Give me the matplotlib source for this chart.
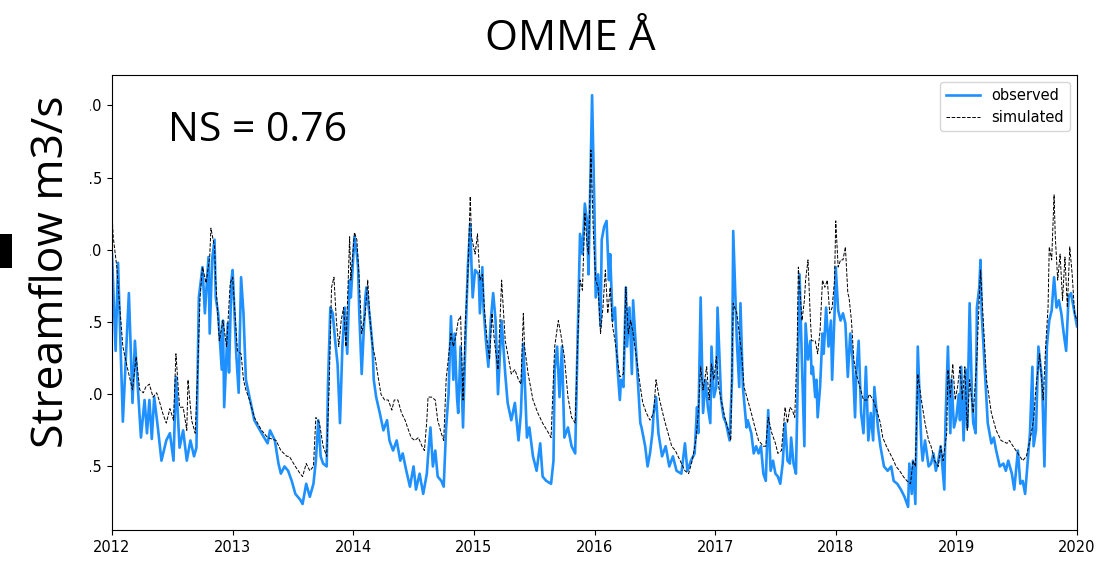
import matplotlib
matplotlib.use("Agg")
import matplotlib.pyplot as plt
from matplotlib.patches import Rectangle

# observed streamflow (log scale units as plotted), (decimal year, value)
observed = [
    (2012.00, 0.97), (2012.03, 0.30), (2012.05, 0.91), (2012.09, -0.19), (2012.14, 0.70),
    (2012.17, -0.06), (2012.19, 0.37), (2012.24, -0.30), (2012.27, -0.04), (2012.29, -0.27),
    (2012.31, -0.04), (2012.33, -0.31), (2012.35, -0.02), (2012.38, -0.23), (2012.41, -0.46),
    (2012.45, -0.32), (2012.48, -0.27), (2012.51, -0.46), (2012.53, 0.12), (2012.56, -0.37),
    (2012.59, -0.25), (2012.62, -0.46), (2012.65, -0.32), (2012.68, -0.43), (2012.70, -0.37),
    (2012.72, 0.67), (2012.75, 0.88), (2012.77, 0.56), (2012.80, 0.95), (2012.81, 0.42),
    (2012.83, 0.93), (2012.85, 1.07), (2012.86, 0.67), (2012.88, 0.56), (2012.91, 0.17),
    (2012.92, 0.51), (2012.93, -0.09), (2012.96, 0.49), (2012.97, 0.15), (2012.99, 0.79),
    (2013.00, 0.86), (2013.03, 0.28), (2013.05, 0.01), (2013.07, 0.81), (2013.09, 0.56),
    (2013.11, 0.10), (2013.14, -0.02), (2013.18, -0.18), (2013.24, -0.27), (2013.29, -0.34),
    (2013.31, -0.25), (2013.35, -0.32), (2013.38, -0.48), (2013.40, -0.55), (2013.43, -0.50),
    (2013.46, -0.53), (2013.49, -0.60), (2013.52, -0.69), (2013.56, -0.73), (2013.58, -0.76),
    (2013.61, -0.62), (2013.64, -0.71), (2013.67, -0.62), (2013.69, -0.46), (2013.71, -0.18),
    (2013.73, -0.43), (2013.75, -0.48), (2013.78, -0.50), (2013.79, 0.05), (2013.81, 0.60),
    (2013.83, 0.56), (2013.85, 0.37), (2013.87, 0.21), (2013.89, -0.20), (2013.91, 0.33),
    (2013.93, 0.60), (2013.95, 0.28), (2013.97, 0.79), (2013.98, 0.67), (2014.01, 1.09),
    (2014.03, 0.97), (2014.04, 0.88), (2014.05, 0.56), (2014.07, 0.14), (2014.10, 0.67),
    (2014.11, 0.74), (2014.14, 0.51), (2014.16, 0.33), (2014.17, 0.10), (2014.19, -0.02),
    (2014.22, -0.13), (2014.25, -0.25), (2014.28, -0.18), (2014.30, -0.32), (2014.33, -0.39),
    (2014.36, -0.32), (2014.39, -0.46), (2014.41, -0.41), (2014.44, -0.53), (2014.47, -0.64),
    (2014.50, -0.50), (2014.52, -0.66), (2014.55, -0.55), (2014.58, -0.69), (2014.61, -0.55),
    (2014.62, -0.43), (2014.64, -0.23), (2014.66, -0.50), (2014.68, -0.39), (2014.70, -0.57),
    (2014.73, -0.60), (2014.75, -0.64), (2014.77, -0.23), (2014.79, 0.00), (2014.81, 0.54),
    (2014.83, 0.10), (2014.84, 0.42), (2014.86, -0.02), (2014.87, -0.13), (2014.89, 0.33),
    (2014.91, -0.23), (2014.93, 0.37), (2014.95, 0.88), (2014.97, 1.18), (2014.98, 0.90),
    (2014.99, 0.67), (2015.01, 0.86), (2015.04, 0.83), (2015.05, 0.56), (2015.07, 0.88),
    (2015.08, 0.60), (2015.10, 0.37), (2015.12, 0.19), (2015.14, 0.51), (2015.16, 0.70),
    (2015.18, 0.51), (2015.20, 0.00), (2015.23, 0.51), (2015.26, 0.14), (2015.28, -0.06),
    (2015.31, -0.18), (2015.34, -0.06), (2015.37, -0.32), (2015.39, -0.13), (2015.41, 0.35),
    (2015.44, -0.30), (2015.46, -0.23), (2015.49, -0.43), (2015.52, -0.53), (2015.55, -0.34),
    (2015.57, -0.57), (2015.60, -0.60), (2015.64, -0.62), (2015.66, -0.46), (2015.67, 0.17),
    (2015.69, 0.33), (2015.71, -0.02), (2015.73, 0.33), (2015.75, -0.30), (2015.78, -0.23),
    (2015.81, -0.36), (2015.84, -0.41), (2015.86, 0.37), (2015.88, 1.11), (2015.90, 0.97),
    (2015.92, 1.32), (2015.94, 1.18), (2015.95, 0.83), (2015.96, 1.25), (2015.98, 2.07),
    (2016.00, 1.25), (2016.01, 0.67), (2016.03, 0.83), (2016.05, 0.47), (2016.06, 1.07),
    (2016.08, 1.16), (2016.10, 1.20), (2016.12, 0.79), (2016.13, 0.97), (2016.15, 0.51),
    (2016.17, 0.60), (2016.19, 0.19), (2016.21, -0.04), (2016.22, 0.10), (2016.24, 0.05),
    (2016.26, 0.74), (2016.27, 0.33), (2016.29, 0.60), (2016.31, 0.14), (2016.32, 0.65),
    (2016.34, 0.37), (2016.36, 0.10), (2016.38, -0.20), (2016.39, -0.23), (2016.42, -0.36),
    (2016.44, -0.50), (2016.46, -0.41), (2016.48, -0.27), (2016.49, -0.13), (2016.51, -0.02),
    (2016.53, -0.27), (2016.56, -0.43), (2016.59, -0.36), (2016.62, -0.50), (2016.65, -0.43),
    (2016.68, -0.53), (2016.72, -0.55), (2016.75, -0.34), (2016.77, -0.53), (2016.80, -0.46),
    (2016.83, -0.41), (2016.85, -0.09), (2016.86, -0.27), (2016.88, 0.67), (2016.90, -0.13),
    (2016.92, 0.10), (2016.94, -0.09), (2016.96, -0.20), (2016.97, 0.33), (2016.99, -0.02),
    (2017.01, 0.05), (2017.02, 0.60), (2017.05, -0.04), (2017.07, -0.16), (2017.09, -0.20),
    (2017.12, -0.32), (2017.14, 0.10), (2017.15, 1.13), (2017.18, 0.37), (2017.20, 0.05),
    (2017.21, 0.63), (2017.23, 0.05), (2017.26, -0.23), (2017.27, -0.18), (2017.30, -0.27),
    (2017.32, -0.41), (2017.34, -0.36), (2017.36, -0.41), (2017.38, -0.36), (2017.40, -0.55),
    (2017.42, -0.60), (2017.44, -0.11), (2017.46, -0.53), (2017.48, -0.46), (2017.50, -0.55),
    (2017.52, -0.57), (2017.54, -0.62), (2017.56, -0.48), (2017.58, -0.20), (2017.60, -0.46),
    (2017.62, -0.48), (2017.63, -0.30), (2017.65, -0.48), (2017.67, -0.55), (2017.68, -0.13),
    (2017.70, 0.83), (2017.72, 0.21), (2017.74, -0.36), (2017.75, 0.49), (2017.77, 0.24),
    (2017.79, 0.37), (2017.80, 0.14), (2017.81, 0.19), (2017.83, -0.02), (2017.84, 0.10),
    (2017.85, -0.16), (2017.87, 0.05), (2017.89, 0.42), (2017.90, 0.28), (2017.92, 0.60),
    (2017.94, 0.33), (2017.96, 0.51), (2017.97, 0.10), (2017.99, 0.56), (2018.00, 0.88),
    (2018.02, 0.58), (2018.04, 0.51), (2018.06, 0.56), (2018.08, 0.49), (2018.10, 0.12),
    (2018.12, 0.42), (2018.14, 0.24), (2018.16, -0.16), (2018.17, 0.14), (2018.19, 0.37),
    (2018.21, -0.13), (2018.23, -0.27), (2018.25, 0.19), (2018.27, -0.32), (2018.29, -0.13),
    (2018.31, -0.32), (2018.32, 0.05), (2018.35, -0.23), (2018.37, -0.36), (2018.40, -0.50),
    (2018.43, -0.53), (2018.46, -0.50), (2018.48, -0.60), (2018.51, -0.62), (2018.54, -0.66),
    (2018.57, -0.71), (2018.60, -0.78), (2018.61, -0.48), (2018.63, -0.69), (2018.64, -0.46),
    (2018.66, -0.76), (2018.68, 0.33), (2018.71, -0.36), (2018.72, -0.46), (2018.74, -0.32),
    (2018.77, -0.50), (2018.79, -0.48), (2018.81, -0.41), (2018.83, -0.53), (2018.85, -0.46),
    (2018.87, -0.36), (2018.90, -0.66), (2018.91, -0.18), (2018.93, 0.33), (2018.95, -0.27),
    (2018.96, 0.10), (2018.98, -0.23), (2019.00, -0.16), (2019.02, 0.00), (2019.03, -0.18),
    (2019.04, 0.19), (2019.06, -0.32), (2019.08, 0.17), (2019.09, -0.23), (2019.11, 0.63),
    (2019.13, -0.04), (2019.14, -0.20), (2019.16, -0.27), (2019.17, 0.60), (2019.19, 0.74),
    (2019.20, 0.93), (2019.21, 0.56), (2019.24, 0.10), (2019.26, -0.20), (2019.29, -0.34),
    (2019.31, -0.30), (2019.33, -0.39), (2019.36, -0.50), (2019.39, -0.48), (2019.41, -0.53),
    (2019.43, -0.46), (2019.46, -0.55), (2019.48, -0.66), (2019.51, -0.39), (2019.53, -0.62),
    (2019.55, -0.60), (2019.57, -0.69), (2019.59, -0.48), (2019.61, -0.27), (2019.63, 0.19),
    (2019.64, -0.36), (2019.66, -0.25), (2019.68, 0.33), (2019.71, 0.10), (2019.73, -0.50),
    (2019.75, 0.33), (2019.77, 0.51), (2019.79, 0.58), (2019.81, 0.81), (2019.83, 0.60),
    (2019.85, 0.65), (2019.87, 0.56), (2019.89, 0.42), (2019.91, 0.30), (2019.93, 0.67),
    (2019.95, 0.70), (2019.98, 0.56), (2020.00, 0.47),
]

# simulated streamflow, (decimal year, value)
simulated = [
    (2012.00, 1.25), (2012.01, 1.09), (2012.04, 0.88), (2012.06, 0.65), (2012.09, 0.33),
    (2012.12, 0.21), (2012.15, 0.10), (2012.17, 0.03), (2012.20, 0.26), (2012.23, 0.03),
    (2012.26, 0.01), (2012.28, 0.05), (2012.31, 0.07), (2012.34, -0.02), (2012.37, 0.01),
    (2012.39, -0.04), (2012.42, -0.13), (2012.45, -0.20), (2012.48, -0.10), (2012.51, -0.18),
    (2012.53, 0.28), (2012.56, -0.09), (2012.59, -0.09), (2012.62, -0.25), (2012.63, 0.10),
    (2012.66, -0.18), (2012.69, -0.27), (2012.71, 0.15), (2012.73, 0.67), (2012.75, 0.88),
    (2012.78, 0.77), (2012.81, 0.95), (2012.82, 1.15), (2012.85, 1.02), (2012.86, 0.79),
    (2012.89, 0.37), (2012.92, 0.51), (2012.95, 0.33), (2012.98, 0.77), (2013.00, 0.81),
    (2013.02, 0.56), (2013.04, 0.30), (2013.07, 0.28), (2013.09, 0.10), (2013.11, 0.03),
    (2013.14, -0.04), (2013.18, -0.16), (2013.24, -0.25), (2013.29, -0.30), (2013.36, -0.32),
    (2013.40, -0.39), (2013.45, -0.43), (2013.47, -0.43), (2013.52, -0.50), (2013.56, -0.55),
    (2013.58, -0.57), (2013.61, -0.48), (2013.64, -0.53), (2013.67, -0.50), (2013.69, -0.16),
    (2013.72, -0.20), (2013.75, -0.36), (2013.78, -0.43), (2013.80, 0.05), (2013.82, 0.74),
    (2013.84, 0.81), (2013.86, 0.51), (2013.88, 0.33), (2013.90, 0.51), (2013.92, 0.60),
    (2013.94, 0.33), (2013.97, 1.09), (2013.98, 0.79), (2014.01, 1.12), (2014.03, 1.07),
    (2014.05, 0.79), (2014.07, 0.42), (2014.10, 0.56), (2014.12, 0.79), (2014.14, 0.51),
    (2014.16, 0.33), (2014.18, 0.26), (2014.21, 0.10), (2014.23, 0.00), (2014.26, -0.04),
    (2014.29, -0.04), (2014.32, -0.11), (2014.34, -0.04), (2014.37, -0.04), (2014.40, -0.13),
    (2014.43, -0.18), (2014.45, -0.23), (2014.48, -0.30), (2014.51, -0.32), (2014.54, -0.30),
    (2014.57, -0.36), (2014.59, -0.39), (2014.61, -0.18), (2014.62, -0.02), (2014.65, -0.02),
    (2014.68, -0.04), (2014.70, -0.18), (2014.73, -0.27), (2014.75, -0.32), (2014.77, 0.10),
    (2014.79, 0.26), (2014.81, 0.42), (2014.83, 0.33), (2014.85, 0.40), (2014.87, 0.51),
    (2014.89, 0.54), (2014.91, -0.04), (2014.93, 0.51), (2014.95, 0.83), (2014.97, 1.37),
    (2014.98, 1.09), (2015.01, 0.97), (2015.03, 1.11), (2015.05, 0.79), (2015.07, 0.83),
    (2015.09, 0.56), (2015.11, 0.37), (2015.13, 0.24), (2015.15, 0.56), (2015.17, 0.37),
    (2015.20, 0.17), (2015.23, 0.79), (2015.26, 0.37), (2015.28, 0.28), (2015.31, 0.14),
    (2015.34, 0.17), (2015.37, 0.10), (2015.39, 0.07), (2015.41, 0.56), (2015.42, 0.33),
    (2015.45, 0.14), (2015.49, -0.04), (2015.53, -0.13), (2015.57, -0.20), (2015.62, -0.27),
    (2015.64, -0.30), (2015.67, 0.33), (2015.70, 0.51), (2015.72, 0.42), (2015.75, 0.26),
    (2015.78, -0.02), (2015.81, -0.16), (2015.84, -0.20), (2015.86, 0.35), (2015.88, 0.79),
    (2015.90, 0.72), (2015.92, 1.25), (2015.94, 1.02), (2015.95, 0.97), (2015.96, 1.30),
    (2015.97, 1.69), (2015.99, 1.13), (2016.01, 0.79), (2016.03, 0.74), (2016.05, 0.42),
    (2016.07, 0.60), (2016.09, 0.86), (2016.11, 0.56), (2016.13, 0.74), (2016.15, 0.47),
    (2016.17, 0.37), (2016.19, 0.24), (2016.21, 0.12), (2016.24, 0.14), (2016.26, 0.74),
    (2016.28, 0.42), (2016.30, 0.51), (2016.32, 0.42), (2016.35, 0.24), (2016.38, 0.05),
    (2016.40, -0.06), (2016.43, -0.13), (2016.46, -0.18), (2016.49, -0.13), (2016.51, 0.10),
    (2016.54, -0.04), (2016.58, -0.18), (2016.61, -0.27), (2016.64, -0.36), (2016.67, -0.39),
    (2016.71, -0.46), (2016.75, -0.53), (2016.78, -0.55), (2016.81, -0.46), (2016.84, -0.32),
    (2016.86, -0.13), (2016.88, 0.19), (2016.90, 0.03), (2016.93, 0.19), (2016.95, -0.04),
    (2016.97, 0.21), (2016.99, 0.10), (2017.01, 0.26), (2017.03, 0.05), (2017.05, -0.04),
    (2017.08, -0.16), (2017.11, -0.25), (2017.13, -0.32), (2017.14, 0.19), (2017.15, 0.63),
    (2017.18, 0.56), (2017.20, 0.42), (2017.22, 0.28), (2017.24, 0.05), (2017.27, -0.04),
    (2017.30, -0.13), (2017.33, -0.23), (2017.36, -0.32), (2017.40, -0.36), (2017.42, -0.36),
    (2017.44, -0.16), (2017.47, -0.27), (2017.50, -0.34), (2017.52, -0.41), (2017.55, -0.39),
    (2017.58, -0.09), (2017.60, -0.20), (2017.62, -0.09), (2017.64, -0.11), (2017.66, -0.16),
    (2017.68, 0.33), (2017.69, 0.88), (2017.72, 0.51), (2017.74, 0.65), (2017.75, 0.79),
    (2017.77, 0.93), (2017.79, 0.51), (2017.80, 0.37), (2017.83, 0.37), (2017.85, 0.28),
    (2017.87, 0.44), (2017.89, 0.79), (2017.91, 0.74), (2017.93, 0.79), (2017.95, 0.56),
    (2017.97, 0.60), (2017.99, 0.79), (2018.00, 1.20), (2018.02, 0.88), (2018.04, 0.93),
    (2018.06, 0.93), (2018.08, 1.02), (2018.10, 0.70), (2018.11, 0.67), (2018.13, 0.51),
    (2018.15, 0.24), (2018.17, 0.14), (2018.20, 0.05), (2018.23, -0.04), (2018.26, -0.04),
    (2018.28, 0.00), (2018.31, -0.04), (2018.34, -0.11), (2018.37, -0.20), (2018.39, -0.30),
    (2018.42, -0.36), (2018.45, -0.41), (2018.48, -0.46), (2018.50, -0.50), (2018.53, -0.53),
    (2018.56, -0.57), (2018.59, -0.60), (2018.62, -0.62), (2018.64, -0.46), (2018.66, -0.50),
    (2018.68, 0.14), (2018.71, -0.04), (2018.74, -0.20), (2018.77, -0.32), (2018.79, -0.36),
    (2018.82, -0.46), (2018.85, -0.50), (2018.87, -0.36), (2018.89, -0.46), (2018.92, -0.27),
    (2018.93, 0.17), (2018.95, -0.02), (2018.97, 0.21), (2018.99, -0.04), (2019.01, 0.05),
    (2019.03, 0.19), (2019.05, -0.04), (2019.07, 0.19), (2019.09, -0.25), (2019.11, 0.10),
    (2019.14, -0.13), (2019.17, 0.24), (2019.18, 0.47), (2019.20, 0.86), (2019.22, 0.56),
    (2019.25, 0.10), (2019.29, -0.13), (2019.33, -0.25), (2019.37, -0.32), (2019.42, -0.34),
    (2019.44, -0.32), (2019.47, -0.36), (2019.51, -0.41), (2019.55, -0.46), (2019.58, -0.43),
    (2019.61, -0.32), (2019.64, -0.18), (2019.66, 0.05), (2019.69, 0.28), (2019.72, -0.04),
    (2019.74, 0.33), (2019.76, 0.60), (2019.77, 1.02), (2019.79, 0.93), (2019.81, 1.38),
    (2019.82, 1.09), (2019.84, 0.79), (2019.86, 0.97), (2019.88, 0.65), (2019.90, 0.95),
    (2019.92, 0.60), (2019.94, 1.02), (2019.96, 0.83), (2019.98, 0.56), (2020.00, 0.51),
]

year_ticks = [2012, 2013, 2014, 2015, 2016, 2017, 2018, 2019, 2020]
flow_ticks = [2.0, 1.5, 1.0, 0.5, 0.0, -0.5]

obs_t, obs_q = zip(*observed)
sim_t, sim_q = zip(*simulated)

W, H = 1114, 570
fig = plt.figure(figsize=(W / 100, H / 100), dpi=100)
ax = fig.add_axes([112 / W, 1 - 530 / H, (1077 - 112) / W, (530 - 75) / H])

ax.plot(obs_t, obs_q, color='#1E90FF', lw=1.9, label='observed')
ax.plot(sim_t, sim_q, color='black', lw=0.7, ls='--', label='simulated')

ax.set_xlim(2012, 2020)
ax.set_ylim(-0.94, 2.21)
ax.set_xticks(year_ticks)
ax.set_xticklabels([str(y) for y in year_ticks])
ax.set_yticks(flow_ticks)
ax.set_yticklabels([f'{v:.1f}' for v in flow_ticks])
ax.tick_params(labelsize=10.5)
ax.legend(loc='upper right', fontsize=10.5, handlelength=2.3)

# the slide crops the left of the tick labels; the big text sits over it
fig.patches.append(Rectangle((0, 0), 90 / W, 1, transform=fig.transFigure,
                             facecolor='white', edgecolor='none', zorder=5))
fig.patches.append(Rectangle((0, 1 - 268 / H), 12 / W, 34 / H, transform=fig.transFigure,
                             facecolor='black', edgecolor='none', zorder=6))

big = dict(family='Open Sans', color='black', zorder=7)
fig.text(570 / W, 1 - 39 / H, 'OMME Å', fontsize=30.5, ha='center', va='center', **big)
fig.text(52 / W, 1 - 272 / H, 'Streamflow m3/s', fontsize=32, rotation=90,
         ha='center', va='center', **big)
fig.text(168 / W, 1 - 141 / H, 'NS = 0.76', fontsize=29.5, ha='left', va='baseline', **big)

fig.savefig('out.png', dpi=100)
